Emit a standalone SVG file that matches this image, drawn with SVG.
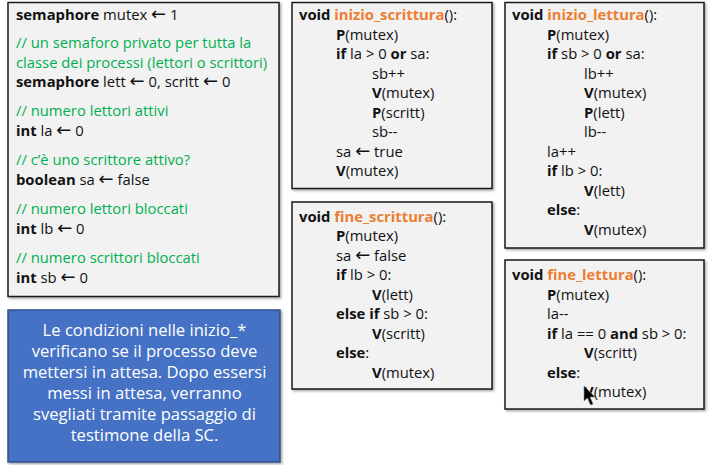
<svg xmlns="http://www.w3.org/2000/svg" width="714" height="465" viewBox="0 0 714 465">
<defs>
<filter id="sh" x="-5%" y="-5%" width="115%" height="115%">
<feDropShadow dx="1.5" dy="1.5" stdDeviation="1.2" flood-color="#000" flood-opacity="0.35"/>
</filter>
</defs>
<style>
.box{fill:#f2f2f2;stroke:#1a1a1a;stroke-width:1.5;filter:url(#sh)}
.blue{fill:#4472c4;stroke:#2f528f;stroke-width:1.5;filter:url(#sh)}
text{font-family:"Open Sans","Liberation Sans",sans-serif;font-size:14.8px;fill:#111}
.b{font-weight:bold}
.c{fill:#00b050}
.o{fill:#ed7d31;font-weight:bold}
.ar{font-family:"DejaVu Sans",sans-serif;font-size:18px}
.w{fill:#fff;font-size:16.6px;text-anchor:middle}
</style>
<rect width="714" height="465" fill="#fff"/>
<g id="globals">
<rect class="box" x="8" y="2.5" width="271" height="294"/>
<text x="16" y="20"><tspan class="b">semaphore</tspan> mutex <tspan class="ar">←</tspan> 1</text>
<text x="16" y="48" class="c">// un semaforo privato per tutta la</text>
<text x="16" y="67.5" class="c">classe dei processi (lettori o scrittori)</text>
<text x="16" y="87"><tspan class="b">semaphore</tspan> lett <tspan class="ar">←</tspan> 0, scritt <tspan class="ar">←</tspan> 0</text>
<text x="16" y="116" class="c">// numero lettori attivi</text>
<text x="16" y="135.5"><tspan class="b">int</tspan> la <tspan class="ar">←</tspan> 0</text>
<text x="16" y="165" class="c">// c’è uno scrittore attivo?</text>
<text x="16" y="184.5"><tspan class="b">boolean</tspan> sa <tspan class="ar">←</tspan> false</text>
<text x="16" y="214" class="c">// numero lettori bloccati</text>
<text x="16" y="233.5"><tspan class="b">int</tspan> lb <tspan class="ar">←</tspan> 0</text>
<text x="16" y="263" class="c">// numero scrittori bloccati</text>
<text x="16" y="282.5"><tspan class="b">int</tspan> sb <tspan class="ar">←</tspan> 0</text>
</g>
<g id="inizio_scrittura">
<rect class="box" x="292" y="2.5" width="200" height="186"/>
<text x="299" y="20"><tspan class="b">void</tspan> <tspan class="o">inizio_scrittura</tspan>():</text>
<text x="336" y="39.5"><tspan class="b">P</tspan>(mutex)</text>
<text x="336" y="59"><tspan class="b">if</tspan> la &gt; 0 <tspan class="b">or</tspan> sa:</text>
<text x="372" y="78.5">sb++</text>
<text x="372" y="98"><tspan class="b">V</tspan>(mutex)</text>
<text x="372" y="117.5"><tspan class="b">P</tspan>(scritt)</text>
<text x="372" y="137">sb--</text>
<text x="336" y="156.5">sa <tspan class="ar">←</tspan> true</text>
<text x="336" y="176"><tspan class="b">V</tspan>(mutex)</text>
</g>
<g id="fine_scrittura">
<rect class="box" x="292" y="202" width="200" height="187"/>
<text x="299" y="221.5"><tspan class="b">void</tspan> <tspan class="o">fine_scrittura</tspan>():</text>
<text x="336" y="241"><tspan class="b">P</tspan>(mutex)</text>
<text x="336" y="260.5">sa <tspan class="ar">←</tspan> false</text>
<text x="336" y="280"><tspan class="b">if</tspan> lb &gt; 0:</text>
<text x="372" y="299.5"><tspan class="b">V</tspan>(lett)</text>
<text x="336" y="319"><tspan class="b">else if</tspan> sb &gt; 0:</text>
<text x="372" y="338.5"><tspan class="b">V</tspan>(scritt)</text>
<text x="336" y="358"><tspan class="b">else</tspan>:</text>
<text x="372" y="377.5"><tspan class="b">V</tspan>(mutex)</text>
</g>
<g id="inizio_lettura">
<rect class="box" x="505" y="2.5" width="199" height="245.5"/>
<text x="512" y="20"><tspan class="b">void</tspan> <tspan class="o">inizio_lettura</tspan>():</text>
<text x="547" y="39.5"><tspan class="b">P</tspan>(mutex)</text>
<text x="547" y="59"><tspan class="b">if</tspan> sb &gt; 0 <tspan class="b">or</tspan> sa:</text>
<text x="584" y="78.5">lb++</text>
<text x="584" y="98"><tspan class="b">V</tspan>(mutex)</text>
<text x="584" y="117.5"><tspan class="b">P</tspan>(lett)</text>
<text x="584" y="137">lb--</text>
<text x="547" y="156.5">la++</text>
<text x="547" y="176"><tspan class="b">if</tspan> lb &gt; 0:</text>
<text x="584" y="195.5"><tspan class="b">V</tspan>(lett)</text>
<text x="547" y="215"><tspan class="b">else</tspan>:</text>
<text x="584" y="234.5"><tspan class="b">V</tspan>(mutex)</text>
</g>
<g id="fine_lettura">
<rect class="box" x="505" y="260" width="199" height="149"/>
<text x="512" y="280"><tspan class="b">void</tspan> <tspan class="o">fine_lettura</tspan>():</text>
<text x="547" y="299.5"><tspan class="b">P</tspan>(mutex)</text>
<text x="547" y="319">la--</text>
<text x="547" y="338.5"><tspan class="b">if</tspan> la == 0 <tspan class="b">and</tspan> sb &gt; 0:</text>
<text x="584" y="358"><tspan class="b">V</tspan>(scritt)</text>
<text x="547" y="377.5"><tspan class="b">else</tspan>:</text>
<text x="584" y="397"><tspan class="b">V</tspan>(mutex)</text>
</g>
<g id="note">
<rect class="blue" x="8" y="310" width="272" height="152"/>
<text class="w" x="144.5" y="336">Le condizioni nelle inizio_*</text>
<text class="w" x="144.5" y="357">verificano se il processo deve</text>
<text class="w" x="144.5" y="378">mettersi in attesa. Dopo essersi</text>
<text class="w" x="144.5" y="399">messi in attesa, verranno</text>
<text class="w" x="144.5" y="420">svegliati tramite passaggio di</text>
<text class="w" x="144.5" y="441">testimone della SC.</text>
</g>
<g id="connectors"></g>
<g id="cursor">
<polygon points="584,386 584,401 587.5,398 590.5,405 593,404 590,397 595,397" fill="#000" stroke="#888" stroke-width="0.6"/>
</g>
</svg>
